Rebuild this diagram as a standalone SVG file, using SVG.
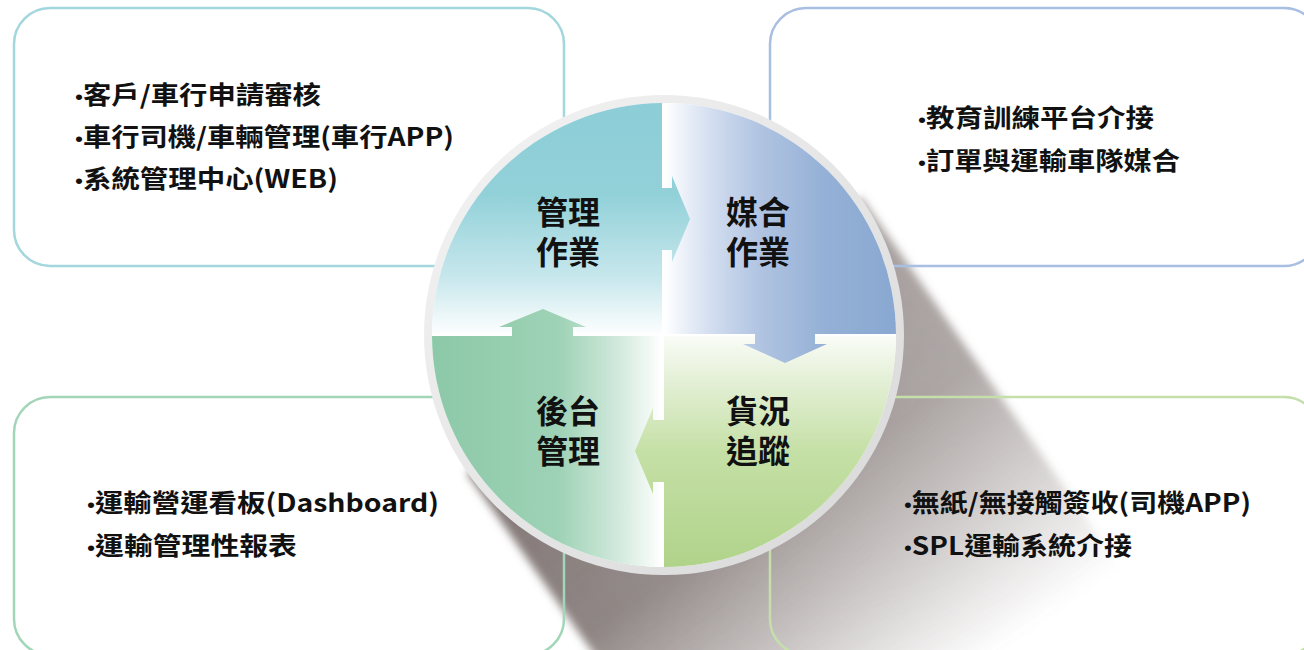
<svg xmlns="http://www.w3.org/2000/svg" width="1304" height="650" viewBox="0 0 1304 650">
<style>
.box{fill:none;stroke-width:2.5}
.bt{font-family:"Noto Sans CJK TC","Noto Sans",sans-serif;font-weight:700;font-size:25px;fill:#111}
.bu{font-family:"Liberation Sans",sans-serif;font-weight:400;font-size:20px}
.ql{font-family:"Noto Sans CJK TC","Noto Sans",sans-serif;font-weight:700;font-size:32px;fill:#111;text-anchor:middle}
</style>
<defs>
<linearGradient id="gTL" gradientUnits="userSpaceOnUse" x1="0" y1="103" x2="0" y2="334">
<stop offset="0" stop-color="#8ccdd7"/><stop offset="0.4" stop-color="#93d1d9"/><stop offset="0.75" stop-color="#c6e7ec"/><stop offset="1" stop-color="#fdfefe"/>
</linearGradient>
<linearGradient id="gTR" gradientUnits="userSpaceOnUse" x1="664" y1="0" x2="896" y2="0">
<stop offset="0" stop-color="#ffffff"/><stop offset="0.2" stop-color="#d3def0"/><stop offset="0.4" stop-color="#b2c5e2"/><stop offset="0.7" stop-color="#94b0d6"/><stop offset="1" stop-color="#89a8d1"/>
</linearGradient>
<linearGradient id="gBL" gradientUnits="userSpaceOnUse" x1="432" y1="0" x2="662" y2="0">
<stop offset="0" stop-color="#8cc9a8"/><stop offset="0.55" stop-color="#9ed2b6"/><stop offset="0.8" stop-color="#cfe8da"/><stop offset="1" stop-color="#ffffff"/>
</linearGradient>
<linearGradient id="gBR" gradientUnits="userSpaceOnUse" x1="0" y1="336" x2="0" y2="567">
<stop offset="0" stop-color="#fafcf7"/><stop offset="0.2" stop-color="#e3efd5"/><stop offset="0.5" stop-color="#c5e0a6"/><stop offset="1" stop-color="#b0d38a"/>
</linearGradient>
<linearGradient id="gRing" x1="0" y1="0" x2="1" y2="1">
<stop offset="0" stop-color="#f4f4f4"/><stop offset="1" stop-color="#d8d8d8"/>
</linearGradient>
<linearGradient id="gShadow" gradientUnits="userSpaceOnUse" x1="664" y1="335" x2="922" y2="704">
<stop offset="0" stop-color="#7a6f6d" stop-opacity="0.95"/><stop offset="0.45" stop-color="#7a6f6d" stop-opacity="0.85"/><stop offset="0.75" stop-color="#7a6f6d" stop-opacity="0.4"/><stop offset="1" stop-color="#7a6f6d" stop-opacity="0"/>
</linearGradient>
<linearGradient id="gShadowMask" gradientUnits="userSpaceOnUse" x1="467" y1="473" x2="861" y2="197">
<stop offset="0" stop-color="#ffffff"/><stop offset="1" stop-color="#b4b4b4"/>
</linearGradient>
<mask id="shadowMask" maskUnits="userSpaceOnUse" x="0" y="0" width="1304" height="650">
<rect x="0" y="0" width="1304" height="650" fill="url(#gShadowMask)"/>
</mask>
<filter id="soft" x="-10%" y="-10%" width="120%" height="120%"><feGaussianBlur stdDeviation="4"/></filter>
</defs>
<rect x="0" y="0" width="1304" height="650" fill="#ffffff"/>
<g id="shadow" mask="url(#shadowMask)">
<polygon points="861,197 1205,688 811,964 467,473" fill="url(#gShadow)" filter="url(#soft)"/>
</g>
<g id="box-mgmt">
<rect class="box" x="14" y="8" width="550" height="258" rx="36" stroke="#a3d6dd"/>
<text class="bt" x="75" y="104" textLength="246" lengthAdjust="spacingAndGlyphs"><tspan class="bu">•</tspan>客戶/車行申請審核</text>
<text class="bt" x="75" y="146" textLength="379" lengthAdjust="spacingAndGlyphs"><tspan class="bu">•</tspan>車行司機/車輛管理(車行APP)</text>
<text class="bt" x="75" y="188" textLength="263" lengthAdjust="spacingAndGlyphs"><tspan class="bu">•</tspan>系統管理中心(WEB)</text>
</g>
<g id="box-match">
<rect class="box" x="770" y="8" width="550" height="258" rx="36" stroke="#a9bfe1"/>
<text class="bt" x="918" y="127" textLength="236" lengthAdjust="spacingAndGlyphs"><tspan class="bu">•</tspan>教育訓練平台介接</text>
<text class="bt" x="918" y="170" textLength="262" lengthAdjust="spacingAndGlyphs"><tspan class="bu">•</tspan>訂單與運輸車隊媒合</text>
</g>
<g id="box-back">
<rect class="box" x="14" y="397" width="550" height="258" rx="36" stroke="#a2d6b9"/>
<text class="bt" x="87" y="512" textLength="352" lengthAdjust="spacingAndGlyphs"><tspan class="bu">•</tspan>運輸營運看板(Dashboard)</text>
<text class="bt" x="87" y="555" textLength="210" lengthAdjust="spacingAndGlyphs"><tspan class="bu">•</tspan>運輸管理性報表</text>
</g>
<g id="box-track">
<rect class="box" x="770" y="397" width="550" height="258" rx="36" stroke="#c5dfab"/>
<text class="bt" x="904" y="512" textLength="347" lengthAdjust="spacingAndGlyphs"><tspan class="bu">•</tspan>無紙/無接觸簽收(司機APP)</text>
<text class="bt" x="904" y="555" textLength="228" lengthAdjust="spacingAndGlyphs"><tspan class="bu">•</tspan>SPL運輸系統介接</text>
</g>
<g id="ring">
<circle cx="664" cy="335" r="240" fill="url(#gRing)"/>
<circle cx="664" cy="335" r="232" fill="#ffffff"/>
</g>
<g id="q-mgmt">
<path d="M662,334 V103 A232,232 0 0 0 432,334 Z" fill="url(#gTL)"/>
</g>
<g id="q-match">
<path d="M664,334 V103 A232,232 0 0 1 896,334 Z" fill="url(#gTR)"/>
</g>
<g id="q-back">
<path d="M662,336 V567 A232,232 0 0 1 432,336 Z" fill="url(#gBL)"/>
</g>
<g id="q-track">
<path d="M664,336 V567 A232,232 0 0 0 896,336 Z" fill="url(#gBR)"/>
</g>
<g id="connectors">
<polygon points="662,188 672,188 672,176 690,219 672,262 672,250 662,250" fill="url(#gTL)"/>
<polygon points="755,334 755,344 743,344 785,363 827,344 815,344 815,334" fill="url(#gTR)"/>
<polygon points="664,420 653,420 653,408 635,451 653,494 653,482 664,482" fill="url(#gBR)"/>
<polygon points="512,336 512,327 499,327 543,309 586,327 573,327 573,336" fill="url(#gBL)"/>
</g>
<g id="quadrant-labels">
<text class="ql" x="568" y="224">管理<tspan x="568" dy="40">作業</tspan></text>
<text class="ql" x="758" y="224">媒合<tspan x="758" dy="40">作業</tspan></text>
<text class="ql" x="568" y="423">後台<tspan x="568" dy="40">管理</tspan></text>
<text class="ql" x="758" y="423">貨況<tspan x="758" dy="40">追蹤</tspan></text>
</g>
</svg>
